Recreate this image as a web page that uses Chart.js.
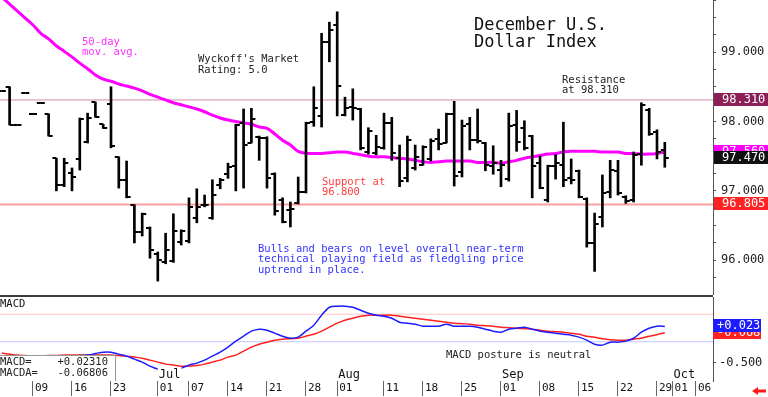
<!DOCTYPE html>
<html>
<head>
<meta charset="utf-8">
<script src="https://cdn.jsdelivr.net/npm/chart.js@4.4.1/dist/chart.umd.min.js"></script>
<style>
  body { margin: 0; background: #fff; }
  #wrap { position: relative; width: 768px; height: 397px; overflow: hidden; background: #fff; }
  #price { position: absolute; left: 0; top: 0; }
  #sep { position: absolute; left: 0; top: 295px; width: 713px; height: 2px; background: #3a3a3a; }
  #macd { position: absolute; left: 0; top: 297px; }
</style>
</head>
<body>
<div id="wrap">
  <canvas id="price" width="768" height="295"></canvas>
  <div id="sep"></div>
  <canvas id="macd" width="768" height="100"></canvas>
</div>
<script>
// trading days, Jun 3 .. Sep 30 (one slot per weekday)
const days = [
  '06-03','06-04','06-05','06-06','06-09','06-10','06-11','06-12','06-13','06-16',
  '06-17','06-18','06-19','06-20','06-23','06-24','06-25','06-26','06-27','06-30',
  '07-01','07-02','07-03','07-04','07-07','07-08','07-09','07-10','07-11','07-14',
  '07-15','07-16','07-17','07-18','07-21','07-22','07-23','07-24','07-25','07-28',
  '07-29','07-30','07-31','08-01','08-04','08-05','08-06','08-07','08-08','08-11',
  '08-12','08-13','08-14','08-15','08-18','08-19','08-20','08-21','08-22','08-25',
  '08-26','08-27','08-28','08-29','09-01','09-02','09-03','09-04','09-05','09-08',
  '09-09','09-10','09-11','09-12','09-15','09-16','09-17','09-18','09-19','09-22',
  '09-23','09-24','09-25','09-26','09-29','09-30'
];

const opens = [
  98.44,98.50,97.95,98.41,98.11,98.27,98.11,97.47,97.08,97.26,
  97.46,97.70,98.28,97.96,98.25,97.49,97.16,96.80,96.41,96.46,
  96.09,95.97,95.99,96.26,96.28,96.61,96.80,96.61,97.08,97.24,
  97.36,97.98,97.69,97.78,97.76,97.24,96.87,96.72,96.82,96.98,
  97.99,98.08,99.14,99.39,98.09,98.21,98.18,97.56,97.55,97.62,
  97.98,97.47,97.18,97.33,97.37,97.46,97.75,97.69,98.11,97.27,
  97.96,97.73,97.69,97.36,97.30,97.17,97.95,97.90,97.79,97.40,
  96.87,97.36,97.37,97.18,97.29,96.88,96.25,96.62,96.98,97.29,
  96.91,96.87,97.53,98.16,97.85,97.59
];
const highs = [
  98.44,98.50,97.95,98.41,98.11,98.27,98.11,97.47,97.47,97.33,
  98.05,98.12,98.28,97.96,98.50,97.49,97.43,96.80,96.68,96.48,
  96.12,96.39,96.67,96.44,96.90,97.03,96.94,97.16,97.18,97.40,
  97.96,98.18,98.19,97.79,97.78,97.26,96.90,96.84,97.20,97.99,
  98.50,99.27,99.43,99.58,98.35,98.47,98.19,97.91,97.80,98.12,
  98.06,97.66,97.79,97.66,97.65,97.75,97.89,98.12,98.29,98.02,
  98.06,98.18,97.70,97.65,97.44,98.12,98.16,98.01,97.80,97.50,
  97.37,97.52,97.99,97.46,97.30,96.90,96.68,97.23,97.44,97.44,
  96.93,97.56,98.27,98.19,97.88,97.70
];
const lows = [
  98.44,97.95,97.95,98.41,98.11,98.27,97.79,97.00,97.06,97.00,
  97.30,97.69,98.06,97.90,97.62,97.04,96.90,96.25,96.35,96.03,
  95.70,95.95,95.97,96.22,96.25,96.54,96.77,96.59,97.03,97.18,
  97.00,97.04,97.69,97.44,97.04,96.65,96.54,96.48,96.81,96.97,
  97.93,97.92,98.86,98.08,98.08,98.02,97.59,97.53,97.52,97.60,
  97.44,97.06,97.13,97.30,97.37,97.43,97.59,97.69,97.07,97.20,
  97.59,97.69,97.29,97.24,97.06,97.14,97.57,97.59,96.90,97.03,
  96.84,97.17,97.06,97.10,96.90,96.19,95.84,96.48,96.90,96.94,
  96.82,96.84,97.37,97.80,97.46,97.34
];
const closes = [
  98.44,97.95,97.95,98.41,98.11,98.27,97.79,97.08,97.40,97.20,
  98.03,98.05,98.06,97.90,97.65,97.16,96.91,96.41,96.67,96.15,
  96.00,96.15,96.42,96.42,96.77,96.77,96.80,96.94,97.16,97.34,
  97.95,97.66,98.03,97.76,97.18,96.71,96.55,96.74,96.98,97.98,
  98.19,99.14,99.32,98.51,98.19,98.19,97.62,97.86,97.63,97.98,
  97.55,97.14,97.73,97.49,97.63,97.72,97.67,98.11,97.21,97.93,
  97.73,97.72,97.37,97.40,97.37,97.93,97.70,97.62,97.36,97.04,
  97.36,97.40,97.16,97.16,96.91,96.25,96.52,96.97,97.30,96.97,
  96.85,97.52,98.24,97.82,97.56,97.47
];
// 50-day moving average
const ma50 = [
  99.79,99.69,99.59,99.49,99.39,99.27,99.19,99.09,99.01,98.93,
  98.84,98.76,98.67,98.61,98.58,98.54,98.51,98.48,98.44,98.39,
  98.35,98.31,98.27,98.24,98.21,98.18,98.14,98.09,98.05,98.02,
  98.00,97.98,97.96,97.92,97.90,97.82,97.73,97.66,97.57,97.54,
  97.54,97.54,97.55,97.56,97.56,97.54,97.52,97.50,97.49,97.49,
  97.48,97.47,97.46,97.44,97.42,97.41,97.42,97.43,97.43,97.43,
  97.43,97.41,97.41,97.41,97.40,97.42,97.44,97.47,97.49,97.51,
  97.53,97.54,97.56,97.57,97.57,97.57,97.57,97.56,97.56,97.56,
  97.54,97.54,97.53,97.53,97.54,97.56
];
const macdLine = [
  -0.409,-0.409,-0.423,-0.423,-0.423,-0.423,-0.416,-0.409,-0.409,-0.409,
  -0.401,-0.394,-0.372,-0.351,-0.351,-0.380,-0.409,-0.452,-0.496,-0.554,
  -0.597,-0.612,-0.604,-0.583,-0.539,-0.510,-0.467,-0.409,-0.351,-0.278,
  -0.191,-0.119,-0.046,-0.017,-0.032,-0.075,-0.119,-0.148,-0.133,-0.046,
  0.041,0.186,0.301,0.316,0.316,0.301,0.258,0.214,0.186,0.171,
  0.142,0.084,0.070,0.055,0.026,0.026,0.026,0.055,0.026,0.026,
  0.026,0.012,-0.017,-0.046,-0.061,-0.017,-0.003,0.012,-0.017,-0.046,
  -0.061,-0.075,-0.090,-0.104,-0.133,-0.177,-0.235,-0.249,-0.206,-0.206,
  -0.191,-0.148,-0.061,-0.003,0.026,0.023
];
const signalLine = [
  -0.365,-0.380,-0.394,-0.401,-0.409,-0.409,-0.401,-0.401,-0.394,-0.394,
  -0.394,-0.394,-0.394,-0.394,-0.394,-0.401,-0.409,-0.423,-0.438,-0.467,
  -0.496,-0.525,-0.539,-0.554,-0.554,-0.546,-0.525,-0.496,-0.467,-0.423,
  -0.394,-0.336,-0.278,-0.235,-0.206,-0.177,-0.162,-0.155,-0.148,-0.119,
  -0.090,-0.046,0.012,0.070,0.113,0.142,0.171,0.186,0.186,0.186,
  0.186,0.171,0.157,0.142,0.128,0.113,0.099,0.084,0.070,0.062,
  0.055,0.041,0.033,0.026,0.012,0.004,-0.003,-0.010,-0.017,-0.032,
  -0.046,-0.054,-0.061,-0.075,-0.090,-0.119,-0.133,-0.155,-0.170,-0.177,
  -0.177,-0.162,-0.148,-0.119,-0.097,-0.068
];

const resistance = 98.310;
const support = 96.805;
const macdNow = 0.02310;
const macdaNow = -0.06806;
const macdBand = [0.2, -0.2];

// date axis: slot index of each tick and its text
const tickDays = [4, 9, 14, 20, 24, 29, 34, 39, 43, 49, 54, 59, 64, 69, 74, 79, 84, 86, 89];
const tickText = ['09','16','23','01','07','14','21','28','01','11','18','25','01','08','15','22','29','01','06'];
const monthDays = [20, 43, 64, 86];
const monthText = ['Jul', 'Aug', 'Sep', 'Oct'];

const xMin = -0.23, xMax = 91.18;
const mono = '"DejaVu Sans Mono", "Liberation Mono", monospace';

function makeTick(side) {
  const c = document.createElement('canvas');
  c.width = 10; c.height = 2;
  const g = c.getContext('2d');
  g.fillStyle = '#000';
  g.fillRect(side < 0 ? 1 : 5, 0, 4, 2);
  return c;
}
const openTick = makeTick(-1);
const closeTick = makeTick(1);

// keep the plot area flush with the canvas edges
function fitSide(s) {
  s.width = 55;
  s.paddingTop = 0; s.paddingBottom = 0;
}
function fitBottom(s) {
  s.height = 16;
  s.paddingLeft = 0; s.paddingRight = 0;
}

function textLines(ctx, lines, x, y, step, size, color) {
  ctx.save();
  ctx.font = size + 'px ' + mono;
  ctx.fillStyle = color;
  ctx.textAlign = 'left';
  ctx.textBaseline = 'middle';
  lines.forEach((t, k) => ctx.fillText(t, x, y + k * step));
  ctx.restore();
}

function drawTag(ctx, scale, value, text, bg, left, width, pad) {
  const y = Math.round(scale.getPixelForValue(value));
  ctx.save();
  ctx.fillStyle = bg;
  ctx.fillRect(left, y - 7, width, 13);
  ctx.fillStyle = '#fff';
  ctx.font = '12px ' + mono;
  ctx.textBaseline = 'middle';
  ctx.textAlign = 'left';
  ctx.fillText(text, left + pad, y);
  ctx.restore();
}

const flatLine = (v) => [{ x: xMin, y: v }, { x: xMax, y: v }];

const priceDecor = {
  id: 'priceDecor',
  afterDatasetsDraw(chart) {
    const ctx = chart.ctx;
    textLines(ctx, ['December U.S.', 'Dollar Index'], 474, 26, 17, 17, '#111');
    textLines(ctx, ["Wyckoff's Market", 'Rating: 5.0'], 198, 59, 11, 10.5, '#222');
    textLines(ctx, ['50-day', 'mov. avg.'], 82, 42, 10.5, 10.5, '#ff30ff');
    textLines(ctx, ['Resistance', 'at 98.310'], 562, 80, 10.5, 10.5, '#222');
    textLines(ctx, ['Support at', '96.800'], 322, 182, 10.5, 10.5, '#ff3c3c');
    textLines(ctx, ['Bulls and bears on level overall near-term',
                    'technical playing field as fledgling price',
                    'uptrend in place.'], 258, 249, 10.6, 10.5, '#3333ff');
  },
  afterDraw(chart) {
    const ctx = chart.ctx, y = chart.scales.y;
    const last = closes.length - 1;
    drawTag(ctx, y, resistance, resistance.toFixed(3), '#8c1f55', 714, 54, 8);
    drawTag(ctx, y, ma50[last], ma50[last].toFixed(3), '#ff00ff', 714, 54, 8);
    drawTag(ctx, y, closes[last], closes[last].toFixed(3), '#111', 714, 54, 8);
    drawTag(ctx, y, support, support.toFixed(3), '#ff2424', 714, 54, 8);
  }
};

new Chart(document.getElementById('price'), {
  type: 'bar',
  data: {
    datasets: [
      { type: 'bar', data: days.map((d, i) => ({ x: i, y: [lows[i], highs[i]] })),
        backgroundColor: '#000', barThickness: 2, borderWidth: 0 },
      { type: 'scatter', data: days.map((d, i) => ({ x: i, y: opens[i] })),
        pointStyle: openTick, pointRadius: 1, pointHoverRadius: 1 },
      { type: 'scatter', data: days.map((d, i) => ({ x: i, y: closes[i] })),
        pointStyle: closeTick, pointRadius: 1, pointHoverRadius: 1 },
      { type: 'line', data: days.map((d, i) => ({ x: i, y: ma50[i] })),
        borderColor: '#ff00ff', borderWidth: 3, pointRadius: 0, tension: 0.4 },
      { type: 'line', data: flatLine(resistance), borderColor: '#d28aac', borderWidth: 1, pointRadius: 0 },
      { type: 'line', data: flatLine(support), borderColor: '#ff9e9e', borderWidth: 2, pointRadius: 0 }
    ]
  },
  options: {
    responsive: false,
    animation: false,
    devicePixelRatio: 1,
    events: [],
    layout: { padding: 0, autoPadding: false },
    plugins: { legend: { display: false }, tooltip: { enabled: false } },
    scales: {
      x: { type: 'linear', min: xMin, max: xMax, offset: false, display: false },
      y: {
        position: 'right', min: 95.5, max: 99.75,
        afterFit: fitSide,
        border: { display: true, color: '#555', width: 1 },
        grid: { drawOnChartArea: false, drawTicks: true, tickLength: 3, color: '#555' },
        ticks: {
          stepSize: 0.25, includeBounds: false, autoSkip: false, padding: 5,
          color: '#222', font: { family: mono, size: 12 },
          callback: (v) => (Math.abs(v - Math.round(v)) < 1e-9 ? v.toFixed(3) : '')
        }
      }
    }
  },
  plugins: [priceDecor]
});

const macdDecor = {
  id: 'macdDecor',
  afterDatasetsDraw(chart) {
    const ctx = chart.ctx, xs = chart.scales.x;
    textLines(ctx, ['MACD'], 0, 7, 11, 10.5, '#111');
    textLines(ctx, ['MACD posture is neutral'], 446, 58, 11, 10.5, '#222');
    // readout box
    ctx.save();
    ctx.fillStyle = '#fff';
    ctx.fillRect(0, 58, 115, 26);
    ctx.strokeStyle = '#999';
    ctx.lineWidth = 1;
    ctx.beginPath();
    ctx.moveTo(0, 58.5); ctx.lineTo(115.5, 58.5); ctx.lineTo(115.5, 84);
    ctx.stroke();
    ctx.restore();
    textLines(ctx, ['MACD=', 'MACDA='], 0, 65, 11, 10.5, '#222');
    ctx.save();
    ctx.font = '10.5px ' + mono;
    ctx.fillStyle = '#222';
    ctx.textAlign = 'right';
    ctx.textBaseline = 'middle';
    ctx.fillText((macdNow >= 0 ? '+' : '') + macdNow.toFixed(5), 108, 65);
    ctx.fillText((macdaNow >= 0 ? '+' : '') + macdaNow.toFixed(5), 108, 76);
    ctx.restore();
    // month names
    ctx.save();
    ctx.font = '12px ' + mono;
    monthDays.forEach((d, k) => {
      const px = xs.getPixelForValue(d) + 1;
      const w = ctx.measureText(monthText[k]).width;
      ctx.fillStyle = '#fff';
      ctx.fillRect(px - 1, 70, w + 2, 14);
      ctx.fillStyle = '#111';
      ctx.textBaseline = 'middle';
      ctx.fillText(monthText[k], px, 78);
    });
    ctx.restore();
  },
  afterDraw(chart) {
    const ctx = chart.ctx, y = chart.scales.y;
    drawTag(ctx, y, macdaNow, macdaNow.toFixed(3), '#ff2020', 713, 48, 4);
    drawTag(ctx, y, macdNow, '+' + macdNow.toFixed(3), '#1c1cff', 713, 48, 4);
    // red arrow, lower right
    ctx.save();
    ctx.fillStyle = '#ff1a1a';
    ctx.beginPath();
    ctx.moveTo(752, 94); ctx.lineTo(758, 90); ctx.lineTo(758, 98); ctx.closePath();
    ctx.fill();
    ctx.fillRect(758, 92.5, 8, 3);
    ctx.restore();
  }
};

new Chart(document.getElementById('macd'), {
  type: 'line',
  data: {
    datasets: [
      { data: days.map((d, i) => ({ x: i, y: macdLine[i] })), borderColor: '#1c1cff',
        borderWidth: 1.5, pointRadius: 0, tension: 0.3 },
      { data: days.map((d, i) => ({ x: i, y: signalLine[i] })), borderColor: '#ff2020',
        borderWidth: 1.5, pointRadius: 0, tension: 0.3 },
      { data: flatLine(macdBand[0]), borderColor: '#ffc4c4', borderWidth: 1, pointRadius: 0 },
      { data: flatLine(macdBand[1]), borderColor: '#c4c4ff', borderWidth: 1, pointRadius: 0 }
    ]
  },
  options: {
    responsive: false,
    animation: false,
    devicePixelRatio: 1,
    events: [],
    layout: { padding: 0, autoPadding: false },
    plugins: { legend: { display: false }, tooltip: { enabled: false } },
    scales: {
      x: {
        type: 'linear', min: xMin, max: xMax, offset: false,
        afterBuildTicks: (s) => { s.ticks = tickDays.map((v) => ({ value: v })); },
        afterFit: fitBottom,
        border: { display: false },
        grid: { drawOnChartArea: false, drawTicks: true, tickLength: 15, color: '#666' },
        ticks: {
          autoSkip: false, maxRotation: 0, align: 'start', labelOffset: 2, padding: -14,
          color: '#111', font: { family: mono, size: 11 },
          callback: (v, k) => tickText[k]
        }
      },
      y: {
        position: 'right', min: -0.77, max: 0.45,
        afterFit: fitSide,
        border: { display: true, color: '#555', width: 1 },
        grid: { drawOnChartArea: false, drawTicks: true, tickLength: 3, color: '#555' },
        ticks: {
          stepSize: 0.5, includeBounds: false, autoSkip: false, padding: 3,
          color: '#222', font: { family: mono, size: 12 },
          callback: (v) => v.toFixed(3)
        }
      }
    }
  },
  plugins: [macdDecor]
});
</script>
</body>
</html>
